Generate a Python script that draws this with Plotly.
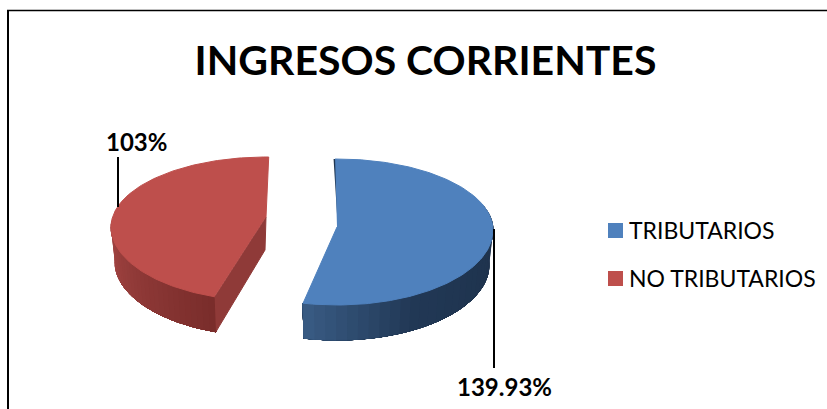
import math
import plotly.graph_objects as go

categories = ["TRIBUTARIOS", "NO TRIBUTARIOS"]
values = [139.93, 103]
value_labels = ["139.93%", "103%"]
title_text = "INGRESOS CORRIENTES"

W, H = 827, 409
FONT = "Lato"
total = sum(values)
cut = 360 * values[0] / total

# Drawing style of each exploded slice (pixel space of the page)
blue = dict(cx=337, rx=156, ey=230, rt=71, rb=75, ay=227, depth=35, brx=152,
            top="#4F81BD", a0=-0.7, a1=cut - 14.8)
red = dict(cx=266, rx=155, ey=227, rt=70, rb=74, ay=217, depth=35, brx=151,
           top="#BE4F4C", a0=cut - 8, a1=361)


def rim(s, deg, lower=False):
    t = math.radians(deg)
    c = math.cos(t)
    rx = s["brx"] if lower else s["rx"]
    ry = s["rt"] if c > 0 else s["rb"]
    return (s["cx"] + rx * math.sin(t), s["ey"] + (s["depth"] if lower else 0) - ry * c)


def arc(s, a, b, lower=False, n=80):
    pts = [rim(s, a + (b - a) * i / n, lower) for i in range(n + 1)]
    return [p[0] for p in pts], [p[1] for p in pts]


def lerp(c1, c2, f):
    return "rgb(%d,%d,%d)" % tuple(round(p + (q - p) * f) for p, q in zip(c1, c2))


fig = go.Figure()


def poly(xs, ys, color):
    fig.add_trace(go.Scatter(x=xs, y=ys, mode="lines", fill="toself", fillcolor=color,
                             line=dict(color=color, width=1), hoverinfo="skip",
                             showlegend=False))


def side(s, a, b, stops, n=30):
    """Side wall painted in overlapping bands, each running to the far end of the arc."""
    for i in range(n):
        p = a + (b - a) * i / n
        f = i / (n - 1) * (len(stops) - 1)
        k = min(int(f), len(stops) - 2)
        ux, uy = arc(s, p, b, n=40)
        lx, ly = arc(s, b, p, True, n=40)
        poly(ux + lx, uy + ly, lerp(stops[k], stops[k + 1], f - k))


# Blue side wall: dark at the right, lighter towards the cut edge
side(blue, 70, blue["a1"], [(30, 50, 76), (31, 52, 79), (33, 56, 85), (56, 90, 130)])

# Red side wall: lighter on the left, darkest near the cut edge
side(red, 275, red["a0"], [(165, 70, 68), (122, 45, 43)])
# Red cut face
vx, vy = rim(red, red["a0"])
bx, by = rim(red, red["a0"], True)
poly([vx, red["cx"], red["cx"] - 1, bx], [vy, red["ay"], red["ay"] + 33, by], "#8F3A38")

# Blue thin cut sliver
tx, ty = rim(blue, blue["a0"])
fig.add_trace(go.Scatter(x=[tx, blue["cx"] + 2], y=[ty, blue["ay"] - 5], mode="lines",
                         line=dict(color="#1F3550", width=3), hoverinfo="skip", showlegend=False))

# Top faces
for s in (blue, red):
    ax, ay = arc(s, s["a0"], s["a1"], n=160)
    poly(ax + [s["cx"]], ay + [s["ay"]], s["top"])

# Leader lines
fig.add_shape(type="line", x0=118, x1=118, y0=157, y1=207, line=dict(color="black", width=2))
fig.add_shape(type="line", x0=494, x1=494, y0=229, y1=368, line=dict(color="black", width=2))

# Frame
fig.add_shape(type="line", x0=8, x1=8, y0=10, y1=409, line=dict(color="black", width=2))
fig.add_shape(type="line", x0=7, x1=827, y0=10.5, y1=10.5, line=dict(color="black", width=1.5))

# Legend entries
for name, s, yc in zip(categories, (blue, red), (230.5, 278.5)):
    fig.add_trace(go.Scatter(x=[615.5], y=[yc], mode="markers", name=name, hoverinfo="name",
                             marker=dict(symbol="square", size=15, color=s["top"]),
                             showlegend=False))
    fig.add_annotation(x=627, y=yc - 1, text=name, showarrow=False, xanchor="left",
                       font=dict(family=FONT, size=23, color="black"))

# Data labels
fig.add_annotation(x=504, y=386, text=value_labels[0], showarrow=False,
                   font=dict(family=FONT, size=24, color="black", weight="bold"))
fig.add_annotation(x=136, y=141, text=value_labels[1], showarrow=False,
                   font=dict(family=FONT, size=24, color="black", weight="bold"))

fig.update_layout(
    width=W, height=H, margin=dict(l=0, r=0, t=0, b=0),
    paper_bgcolor="white", plot_bgcolor="white",
    title=dict(text=title_text, x=425.5 / W, xanchor="center", y=1 - 61 / H, yanchor="middle",
               font=dict(family=FONT, size=41, color="black", weight="bold")),
    xaxis=dict(range=[0, W], visible=False, fixedrange=True),
    yaxis=dict(range=[H, 0], visible=False, fixedrange=True),
    showlegend=False,
)
fig.write_html("out.html", config=dict(displayModeBar=False),
               post_script="document.body.style.margin='0';document.body.style.overflow='hidden';")
